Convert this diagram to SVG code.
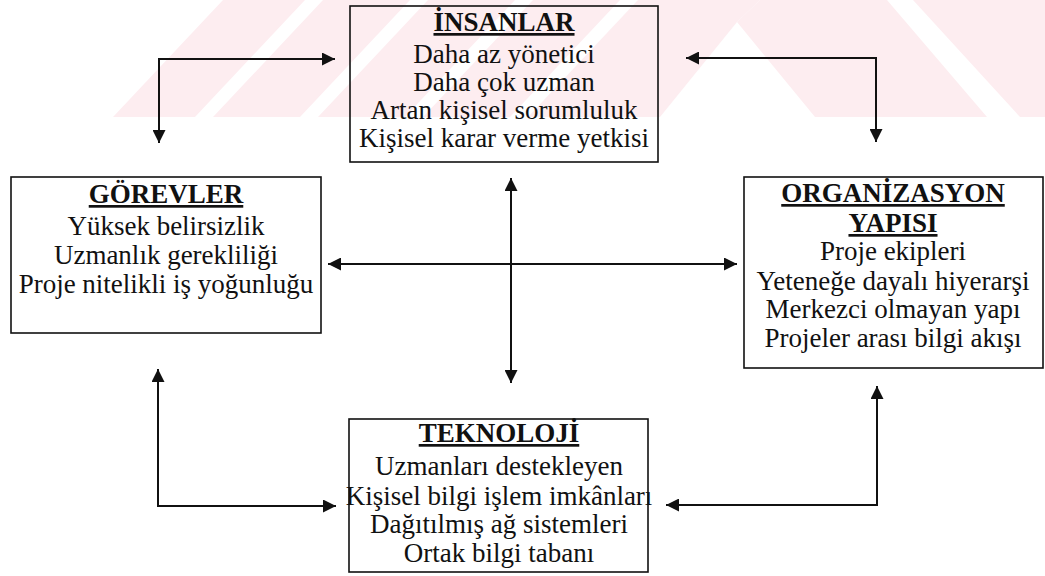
<svg xmlns="http://www.w3.org/2000/svg" width="1045" height="576" viewBox="0 0 1045 576">
<style>
.box{fill:none;stroke:#111;stroke-width:1.6}
.c{fill:none;stroke:#111;stroke-width:2}
.wm{fill:#fdedf0}
</style>
<defs>
<marker id="ah" markerUnits="userSpaceOnUse" markerWidth="14" markerHeight="13" refX="13" refY="6.5" orient="auto-start-reverse">
<path d="M0,0 L13,6.5 L0,13 z" fill="#111"/>
</marker>
</defs>
<g id="watermark">
<polygon class="wm" points="113,117 195,117 305,0 223,0"/>
<polygon class="wm" points="213,117 300,117 410,0 323,0"/>
<polygon class="wm" points="318,117 405,117 515,0 428,0"/>
<polygon class="wm" points="423,117 510,117 620,0 533,0"/>
<polygon class="wm" points="528,117 660,117 737,22 760,0 638,0"/>
<polygon class="wm" points="760,0 887,0 987,117 815,117 737,22"/>
<polygon class="wm" points="913,0 1045,0 1045,117 1020,117"/>
</g>
<g id="connectors">
<path class="c" d="M335,59 L159,59 L159,143" marker-start="url(#ah)" marker-end="url(#ah)"/>
<path class="c" d="M686,58 L876,58 L876,142" marker-start="url(#ah)" marker-end="url(#ah)"/>
<path class="c" d="M511,178 L511,383" marker-start="url(#ah)" marker-end="url(#ah)"/>
<path class="c" d="M328,264 L737,264" marker-start="url(#ah)" marker-end="url(#ah)"/>
<path class="c" d="M158,369 L158,506 L336,506" marker-start="url(#ah)" marker-end="url(#ah)"/>
<path class="c" d="M877,386 L877,505 L666,505" marker-start="url(#ah)" marker-end="url(#ah)"/>
</g>
<g id="insanlar" font-family="Liberation Serif, serif" font-size="27" fill="#111" text-anchor="middle">
<rect class="box" x="350" y="6" width="308" height="156"/>
<text x="504" y="31" font-weight="bold" text-decoration="underline">İNSANLAR</text>
<text x="504" y="63">Daha az yönetici</text>
<text x="504" y="91">Daha çok uzman</text>
<text x="504" y="119">Artan kişisel sorumluluk</text>
<text x="504" y="147">Kişisel karar verme yetkisi</text>
</g>
<g id="gorevler" font-family="Liberation Serif, serif" font-size="27" fill="#111" text-anchor="middle">
<rect class="box" x="11" y="177" width="310" height="156"/>
<text x="166" y="203" font-weight="bold" text-decoration="underline">GÖREVLER</text>
<text x="166" y="235">Yüksek belirsizlik</text>
<text x="166" y="264">Uzmanlık gerekliliği</text>
<text x="166" y="293">Proje nitelikli iş yoğunluğu</text>
</g>
<g id="organizasyon" font-family="Liberation Serif, serif" font-size="27" fill="#111" text-anchor="middle">
<rect class="box" x="744" y="177" width="299" height="191"/>
<text x="893" y="202" font-weight="bold" text-decoration="underline">ORGANİZASYON</text>
<text x="893" y="232" font-weight="bold" text-decoration="underline">YAPISI</text>
<text x="893" y="260">Proje ekipleri</text>
<text x="893" y="290">Yeteneğe dayalı hiyerarşi</text>
<text x="893" y="318">Merkezci olmayan yapı</text>
<text x="893" y="347">Projeler arası bilgi akışı</text>
</g>
<g id="teknoloji" font-family="Liberation Serif, serif" font-size="27" fill="#111" text-anchor="middle">
<rect class="box" x="349" y="419" width="299" height="153"/>
<text x="499" y="442" font-weight="bold" text-decoration="underline">TEKNOLOJİ</text>
<text x="499" y="475">Uzmanları destekleyen</text>
<text x="499" y="505">Kişisel bilgi işlem imkânları</text>
<text x="499" y="533">Dağıtılmış ağ sistemleri</text>
<text x="499" y="562">Ortak bilgi tabanı</text>
</g>
</svg>
